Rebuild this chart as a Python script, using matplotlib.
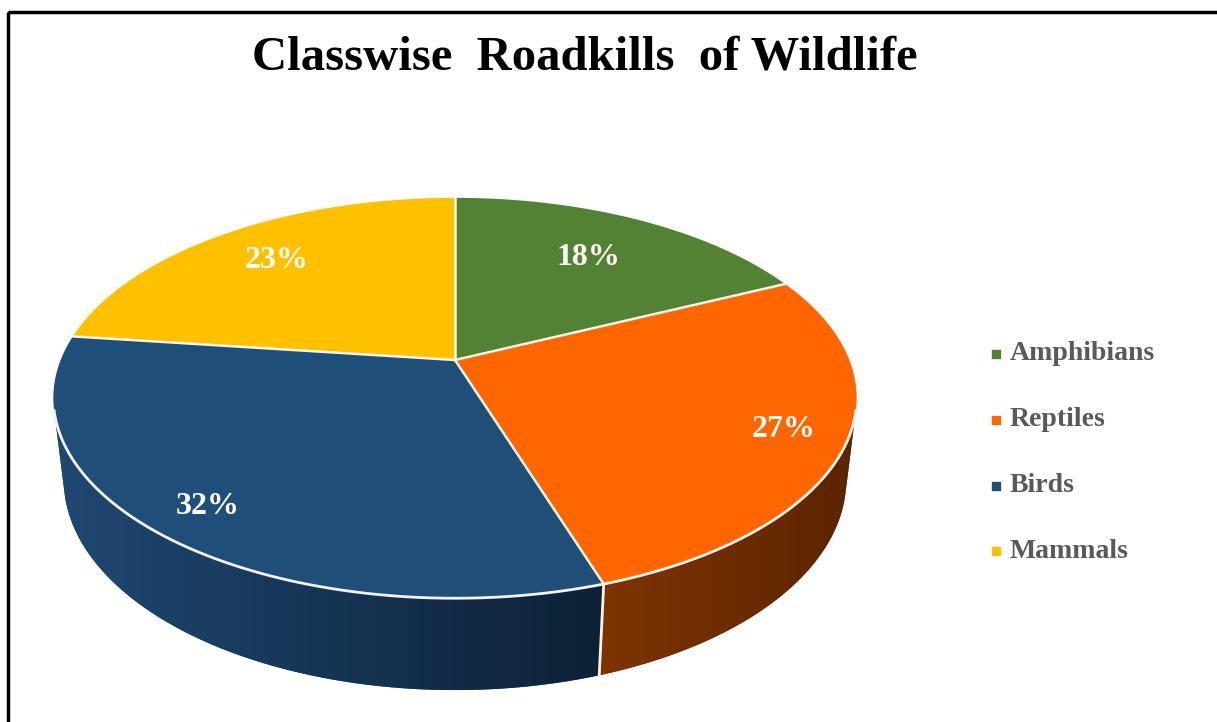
import matplotlib.pyplot as plt
import numpy as np
from matplotlib.patches import Polygon, Rectangle
from matplotlib.colors import LinearSegmentedColormap

categories = ['Amphibians', 'Reptiles', 'Birds', 'Mammals']
shares = [18, 27, 32, 23]
top_colors = ['#548235', '#ff6600', '#1f4e79', '#ffc000']
side_colors = [('#3b5c25', '#2c451b'), ('#7e3400', '#5c2400'),
               ('#1f4872', '#0d2136'), ('#b38800', '#8a6800')]
label_radius = [0.7, 0.85, 0.86, 0.76]

# perspective set-up, in pixel space
cx, cy = 455, 360
tilt = np.radians(29.3)
dist = 4.59
focal = 1810
thick = 0.241


def project(t, r=1.0, z=0.0):
    X = r * np.cos(t)
    Y = r * np.sin(t)
    d = dist + Y * np.cos(tilt) - z * np.sin(tilt)
    v = Y * np.sin(tilt) + z * np.cos(tilt)
    return cx + focal * X / d, cy - focal * v / d


fig = plt.figure(figsize=(12.17, 7.22), dpi=100)
ax = fig.add_axes([0, 0, 1, 1])
ax.set_xlim(0, 1217)
ax.set_ylim(722, 0)
ax.axis('off')

fracs = np.array(shares) / np.sum(shares)
bounds = np.pi / 2 - 2 * np.pi * np.concatenate([[0], np.cumsum(fracs)])

# visible part of the rim
k = np.arcsin(1 / (dist * np.cos(tilt)))
vis_lo, vis_hi = np.pi + k, 2 * np.pi - k

# sides
for i in range(len(shares)):
    a0, a1 = bounds[i], bounds[i + 1]
    for sh in (-2 * np.pi, 0, 2 * np.pi, 4 * np.pi):
        lo = max(a1 + sh, vis_lo)
        hi = min(a0 + sh, vis_hi)
        if lo >= hi:
            continue
        t = np.linspace(lo, hi, 120)
        xt, yt = project(t)
        xb, yb = project(t[::-1], z=-thick)
        pts = np.column_stack([np.concatenate([xt, xb]), np.concatenate([yt, yb])])
        poly = Polygon(pts, closed=True, facecolor=side_colors[i][0], edgecolor='none', zorder=1)
        ax.add_patch(poly)
        cmap = LinearSegmentedColormap.from_list('s', side_colors[i])
        grad = np.linspace(0, 1, 256).reshape(1, -1)
        img = ax.imshow(grad, cmap=cmap, aspect='auto', zorder=1.5,
                        extent=[pts[:, 0].min(), pts[:, 0].max(), pts[:, 1].max(), pts[:, 1].min()])
        img.set_clip_path(poly)

# vertical seams on the side
for b in bounds:
    bm = b % (2 * np.pi)
    if vis_lo < bm < vis_hi:
        x0, y0 = project(bm)
        x1, y1 = project(bm, z=-thick)
        ax.plot([x0, x1], [y0, y1], color='#fdf6e6', lw=2, zorder=2)

# top faces
for i in range(len(shares)):
    t = np.linspace(bounds[i], bounds[i + 1], 200)
    xa, ya = project(t)
    pts = np.column_stack([np.concatenate([[cx], xa]), np.concatenate([[cy], ya])])
    ax.add_patch(Polygon(pts, closed=True, facecolor=top_colors[i], edgecolor='none', zorder=3))

for b in bounds[:-1]:
    xb, yb = project(b)
    ax.plot([cx, xb], [cy, yb], color='#fdf6e6', lw=1.8, zorder=4)

t = np.linspace(vis_lo, vis_hi, 300)
xr, yr = project(t)
ax.plot(xr, yr, color='#f4f1ea', lw=2, zorder=4)

# labels
for i in range(len(shares)):
    mid = (bounds[i] + bounds[i + 1]) / 2
    lx, ly = project(mid, r=label_radius[i])
    ax.text(lx, ly, f'{shares[i]}%', ha='center', va='center', color='#fdfcf5',
            fontsize=23, fontweight='bold', family='Liberation Serif', zorder=5)

# legend
leg_y = [354, 420, 486, 551]
for i, name in enumerate(categories):
    ax.scatter([996], [leg_y[i]], marker='s', s=36, color=top_colors[i], zorder=5)
    ax.text(1010, leg_y[i], name, ha='left', va='center', color='#595959',
            fontsize=20, fontweight='bold', family='Liberation Serif', zorder=5)

ax.text(585, 57, 'Classwise  Roadkills  of Wildlife', ha='center', va='center',
        fontsize=35, fontweight='bold', family='Liberation Serif', color='black')

ax.add_patch(Rectangle((8, 12), 1300, 800, fill=False, edgecolor='black', lw=2.5, zorder=6))

fig.savefig('out.png', dpi=100)
